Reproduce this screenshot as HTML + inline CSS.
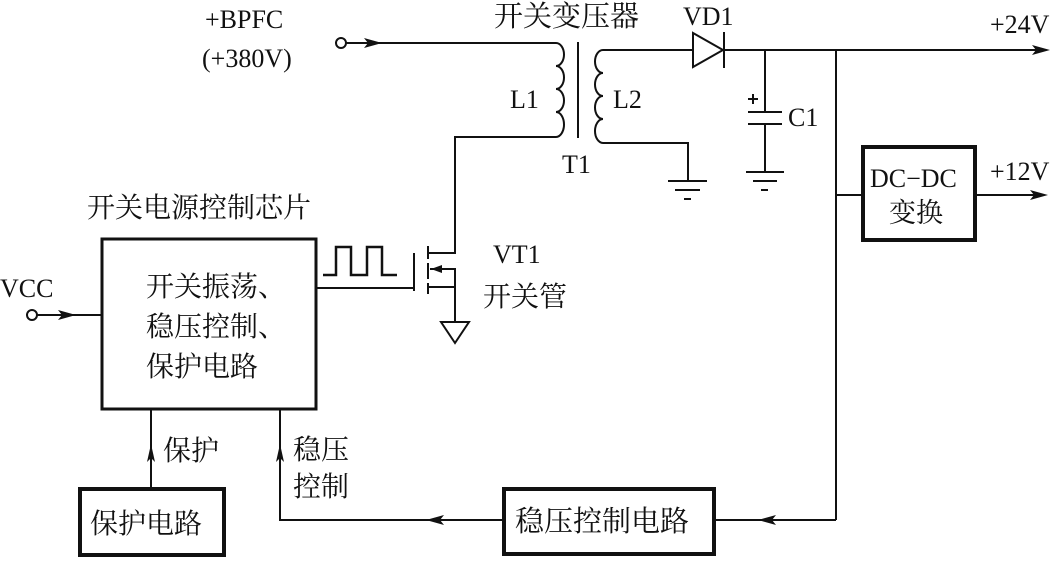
<!DOCTYPE html>
<html><head><meta charset="utf-8"><style>
body{margin:0;background:#fff;width:1060px;height:557px;overflow:hidden}
svg text{font-family:"Liberation Serif","Noto Serif CJK SC",serif;fill:#111}
</style></head><body>
<svg width="1060" height="557" viewBox="0 0 1060 557" xmlns="http://www.w3.org/2000/svg">
<g stroke="#111" stroke-width="2" fill="none">
<!-- input -->
<circle cx="341" cy="43" r="5"/>
<line x1="346" y1="43" x2="556" y2="43"/>
<!-- L1 coil -->
<path d="M556 43 a8 11.5 0 0 1 0 23 a8 11.5 0 0 1 0 23 a8 11.5 0 0 1 0 23 a8 12.5 0 0 1 0 25"/>
<line x1="578" y1="42" x2="578" y2="138"/>
<!-- L2 coil -->
<path d="M603 50 a8 11.5 0 0 0 0 23 a8 11.5 0 0 0 0 23 a8 11.5 0 0 0 0 23 a8 12 0 0 0 0 24"/>
<line x1="603" y1="50" x2="1040" y2="50"/>
<polyline points="603,143 688,143 688,181"/>
<line x1="668" y1="181" x2="707" y2="181"/><line x1="675" y1="190" x2="700" y2="190"/><line x1="684" y1="199" x2="691" y2="199"/>
<!-- diode -->
<polygon points="693,33 693,67 723,50" fill="#fff"/>
<line x1="724" y1="32" x2="724" y2="68"/>
<!-- C1 -->
<line x1="765" y1="50" x2="765" y2="112"/>
<line x1="748" y1="112" x2="782" y2="112"/><line x1="748" y1="124" x2="782" y2="124"/>
<line x1="765" y1="124" x2="765" y2="172"/>
<line x1="746" y1="172" x2="784" y2="172"/><line x1="753" y1="181" x2="777" y2="181"/><line x1="761" y1="190" x2="768" y2="190"/>
<line x1="748" y1="99" x2="758" y2="99"/><line x1="753" y1="94" x2="753" y2="104"/>
<!-- right vertical -->
<line x1="836" y1="50" x2="836" y2="520"/>
<line x1="836" y1="195" x2="863" y2="195"/>
<rect x="863" y="147" width="112" height="93" stroke-width="4"/>
<line x1="975" y1="195" x2="1040" y2="195"/>
<!-- L1 to MOSFET -->
<polyline points="556,137 455,137 455,253 428,253"/>
<line x1="428" y1="246" x2="428" y2="259"/><line x1="428" y1="263" x2="428" y2="279"/><line x1="428" y1="283" x2="428" y2="294"/>
<line x1="414" y1="253" x2="414" y2="291"/>
<polyline points="430,269 455,269 455,322"/>
<polyline points="428,287 455,287"/>
<polygon points="441,322 469,322 455,343"/>
<polyline points="316,288 414,288"/>
<!-- square wave -->
<polyline points="323,275 336,275 336,247 351,247 351,275 367,275 367,247 382,247 382,275 397,275" stroke-width="2.5"/>
<!-- main box -->
<rect x="102" y="239" width="214" height="170" stroke-width="3"/>
<circle cx="32" cy="315" r="5"/>
<line x1="37" y1="315" x2="102" y2="315"/>
<!-- protection -->
<rect x="80" y="489" width="144" height="66" stroke-width="4"/>
<line x1="151" y1="489" x2="151" y2="409"/>
<!-- regulation -->
<polyline points="280,409 280,520 504,520"/>
<rect x="504" y="489" width="210" height="65" stroke-width="4"/>
<line x1="714" y1="520" x2="836" y2="520"/>
</g>
<!-- arrowheads -->
<g fill="#111">
<polygon points="382,43 364,38 368,43 364,48"/>
<polygon points="1050,50 1032,45 1036,50 1032,55"/>
<polygon points="1048,195 1030,190 1034,195 1030,200"/>
<polygon points="76,315 58,310 62,315 58,320"/>
<polygon points="431,269 442,265 442,273"/>
<polygon points="151,444 147,462 151,458 155,462"/>
<polygon points="280,444 276,462 280,458 284,462"/>
<polygon points="426,520 444,515 440,520 444,525"/>
<polygon points="758,520 776,515 772,520 776,525"/>
</g>
<g font-size="26">
<text x="205" y="28">+BPFC</text>
<text x="202" y="67">(+380V)</text>
<text x="494" y="26" font-size="29">开关变压器</text>
<text x="683" y="25">VD1</text>
<text x="990" y="33">+24V</text>
<text x="990" y="180">+12V</text>
<text x="510" y="108">L1</text>
<text x="613" y="108">L2</text>
<text x="562" y="173">T1</text>
<text x="788" y="126">C1</text>
<text x="870" y="187">DC−DC</text>
<text x="889" y="222" font-size="27">变换</text>
<text x="493" y="263">VT1</text>
<text x="483" y="306" font-size="28">开关管</text>
<text x="87" y="217" font-size="28">开关电源控制芯片</text>
<text x="0" y="297">VCC</text>
<text x="146" y="296" font-size="28">开关振荡、</text>
<text x="146" y="336" font-size="28">稳压控制、</text>
<text x="146" y="376" font-size="28">保护电路</text>
<text x="163" y="460" font-size="28">保护</text>
<text x="293" y="459" font-size="28">稳压</text>
<text x="293" y="496" font-size="28">控制</text>
<text x="90" y="533" font-size="28">保护电路</text>
<text x="515" y="531" font-size="29">稳压控制电路</text>
</g>
</svg>
</body></html>
